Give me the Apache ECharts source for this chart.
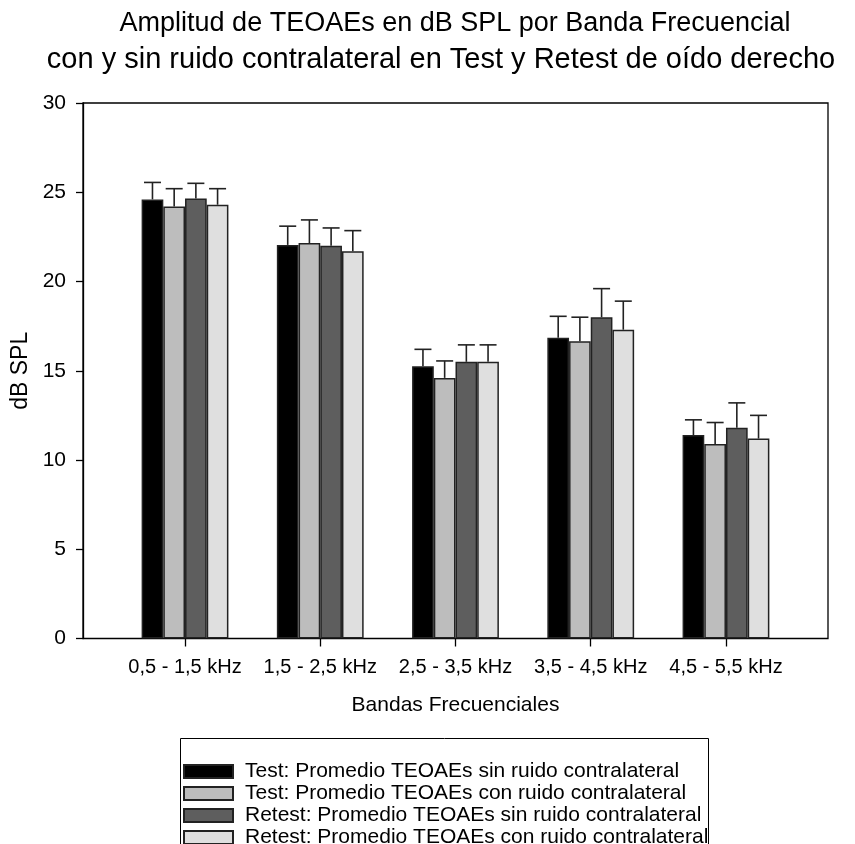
<!DOCTYPE html>
<html><head><meta charset="utf-8">
<script src="https://cdn.jsdelivr.net/npm/echarts@6/dist/echarts.min.js"></script>
<style>html,body{margin:0;padding:0;background:#fff}#c{width:855px;height:844px}</style>
</head><body><div id="c"></div>
<script>
const titleLines = [
  'Amplitud de TEOAEs en dB SPL por Banda Frecuencial',
  'con y sin ruido contralateral en Test y Retest de oído derecho'
];
const categories = ['0,5 - 1,5 kHz', '1,5 - 2,5 kHz', '2,5 - 3,5 kHz', '3,5 - 4,5 kHz', '4,5 - 5,5 kHz'];
const seriesNames = [
  'Test: Promedio TEOAEs sin ruido contralateral',
  'Test: Promedio TEOAEs con ruido contralateral',
  'Retest: Promedio TEOAEs sin ruido contralateral',
  'Retest: Promedio TEOAEs con ruido contralateral'
];
const testSin    = [24.6, 22.05, 15.25, 16.85, 11.4];
const testCon    = [24.2, 22.15, 14.6, 16.65, 10.9];
const retestSin  = [24.65, 22.0, 15.5, 18.0, 11.8];
const retestCon  = [24.3, 21.7, 15.5, 17.3, 11.2];
const errTestSin   = [0.95, 1.05, 0.95, 1.2, 0.85];
const errTestCon   = [1.0, 1.3, 0.95, 1.35, 1.2];
const errRetestSin = [0.85, 1.0, 0.95, 1.6, 1.4];
const errRetestCon = [0.9, 1.15, 0.95, 1.6, 1.3];
const yMin = 0, yMax = 30, yStep = 5;

const values = [testSin, testCon, retestSin, retestCon];
const errors = [errTestSin, errTestCon, errRetestSin, errRetestCon];
const colors = ['#000000', '#bdbdbd', '#5e5e5e', '#dfdfdf'];
const FONT = '"Liberation Sans", Arial, sans-serif';
const BAR_W = 21.7, CAP_W = 17;

const chart = echarts.init(document.getElementById('c'), null, {renderer: 'canvas'});

const series = [];
values.forEach((vals, k) => {
  series.push({
    name: seriesNames[k], type: 'bar', xAxisIndex: 1, yAxisIndex: 1,
    barWidth: BAR_W, barGap: '0%',
    itemStyle: {color: colors[k], borderColor: '#222', borderWidth: 1.5},
    data: vals, z: 2
  });
});
values.forEach((vals, k) => {
  series.push({
    type: 'custom', xAxisIndex: 1, yAxisIndex: 1, z: 3,
    encode: {x: 0, y: 1},
    data: vals.map((v, i) => [i, v, errors[k][i]]),
    renderItem: function (params, api) {
      const i = api.value(0), v = api.value(1), e = api.value(2);
      const base = api.coord([i, v]);
      const top = api.coord([i, v + e]);
      const x = base[0] + (k - 1.5) * BAR_W;
      const st = {stroke: '#222', lineWidth: 1.6};
      return {type: 'group', children: [
        {type: 'line', shape: {x1: x, y1: base[1], x2: x, y2: top[1]}, style: st},
        {type: 'line', shape: {x1: x - CAP_W / 2, y1: top[1], x2: x + CAP_W / 2, y2: top[1]}, style: st}
      ]};
    }
  });
});

chart.setOption({
  backgroundColor: '#fff',
  animation: false,
  title: [
    {text: titleLines[0], left: 455, top: 10, textAlign: 'center', padding: 0,
     textStyle: {fontFamily: FONT, fontSize: 27, fontWeight: 'normal', color: '#000'}},
    {text: titleLines[1], left: 441, top: 45, textAlign: 'center', padding: 0,
     textStyle: {fontFamily: FONT, fontSize: 29, fontWeight: 'normal', color: '#000'}}
  ],
  graphic: [{
    type: 'rect', silent: true, z: 0,
    shape: {x: 180.5, y: 738.5, width: 528, height: 130},
    style: {fill: '#fff', stroke: '#000', lineWidth: 1}
  }],
  legend: {
    data: seriesNames, orient: 'vertical', left: 183, top: 761, height: 140,
    icon: 'rect', itemWidth: 49, itemHeight: 13, itemGap: 1,
    padding: 0,
    textStyle: {fontFamily: FONT, fontSize: 21, color: '#000', lineHeight: 20, padding: [0, 0, 0, 7]}
  },
  grid: [
    {left: 83, right: 27, top: 103, bottom: 205.5, show: true, borderColor: '#000', borderWidth: 1.3, backgroundColor: 'transparent'},
    {left: 117.4, right: 61.4, top: 103, bottom: 205.5}
  ],
  xAxis: [
    {gridIndex: 0, type: 'value', min: 0, max: 1, show: false},
    {gridIndex: 1, type: 'category', data: categories, boundaryGap: true,
     axisLine: {show: false},
     axisTick: {show: true, alignWithLabel: true, length: 8, lineStyle: {color: '#000', width: 1.3}},
     axisLabel: {interval: 0, fontFamily: FONT, fontSize: 20, color: '#000', margin: 19},
     name: 'Bandas Frecuenciales', nameLocation: 'middle', nameGap: 56,
     nameTextStyle: {fontFamily: FONT, fontSize: 21, color: '#000'}}
  ],
  yAxis: [
    {gridIndex: 0, type: 'value', min: yMin, max: yMax, interval: yStep,
     axisLine: {show: true, lineStyle: {color: '#000', width: 1.3}},
     axisTick: {show: true, length: 7, lineStyle: {color: '#000', width: 1.3}},
     axisLabel: {fontFamily: FONT, fontSize: 21, color: '#000', margin: 17},
     splitLine: {show: false},
     name: 'dB SPL', nameLocation: 'middle', nameGap: 50, nameRotate: 90,
     nameTextStyle: {fontFamily: FONT, fontSize: 23, color: '#000'}},
    {gridIndex: 1, type: 'value', min: yMin, max: yMax, interval: yStep, show: false}
  ],
  series: series
});
</script></body></html>
